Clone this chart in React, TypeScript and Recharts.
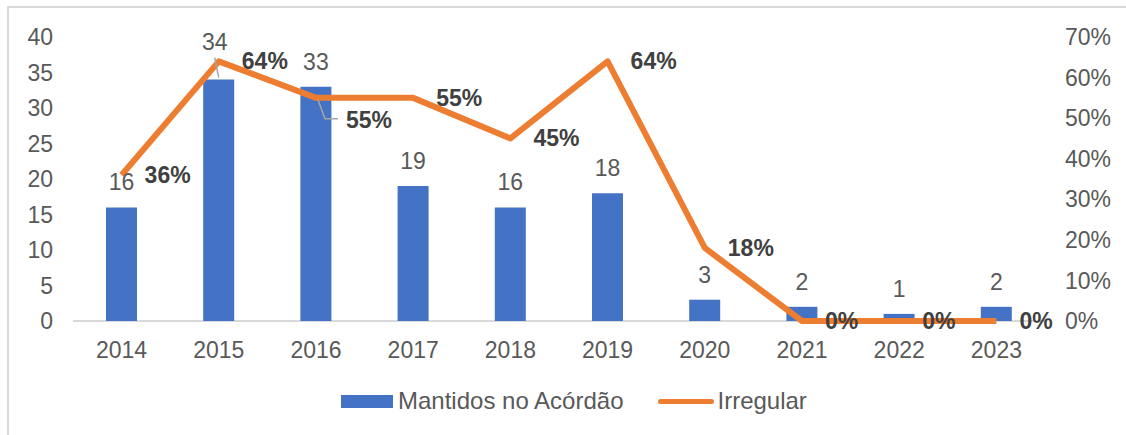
import React from 'react';
import { ComposedChart, Bar, Line, XAxis, YAxis, LabelList, Legend, CartesianGrid } from 'recharts';

const years = ['2014', '2015', '2016', '2017', '2018', '2019', '2020', '2021', '2022', '2023'];
const mantidos = [16, 34, 33, 19, 16, 18, 3, 2, 1, 2];
const irregular = [0.36, 0.64, 0.55, 0.55, 0.45, 0.64, 0.18, 0, 0, 0];
const leftTicks = [0, 5, 10, 15, 20, 25, 30, 35, 40];
const rightTicks = [0, 0.1, 0.2, 0.3, 0.4, 0.5, 0.6, 0.7];

const seriesNames = { bar: 'Mantidos no Acórdão', line: 'Irregular' };

const data = years.map((y, i) => ({ year: y, mantidos: mantidos[i], irregular: irregular[i] }));

const FONT = '"Liberation Sans", Arial, sans-serif';
const BLUE = '#4472C4';
const ORANGE = '#ED7D31';
const GRAY_TEXT = '#595959';
const DARK_TEXT = '#404040';
const FS = 23;

const pct = (v: number) => `${Math.round(v * 100)}%`;

const BarValueLabel = (props: any) => {
  const { x, y, width, value, index } = props;
  const cx = Number(x) + Number(width) / 2;
  const top = Number(y);
  if (years[index] === '2015') {
    return (
      <g>
        <line x1={cx - 4} y1={top - 22} x2={cx} y2={top - 2} stroke="#A6A6A6" strokeWidth={1.5} />
        <text x={cx - 4} y={top - 38} dy="0.35em" textAnchor="middle" fontSize={FS} fontFamily={FONT} fill={GRAY_TEXT}>
          {value}
        </text>
      </g>
    );
  }
  return (
    <text x={cx} y={top - 25} dy="0.35em" textAnchor="middle" fontSize={FS} fontFamily={FONT} fill={GRAY_TEXT}>
      {value}
    </text>
  );
};

const LineValueLabel = (props: any) => {
  const { x, y, value, index } = props;
  const px = Number(x);
  const py = Number(y);
  if (years[index] === '2016') {
    return (
      <g>
        <polyline
          points={`${px + 2},${py + 2} ${px + 9},${py + 21} ${px + 22},${py + 21}`}
          fill="none"
          stroke="#A6A6A6"
          strokeWidth={1.5}
        />
        <text x={px + 30} y={py + 22} dy="0.35em" fontSize={FS} fontWeight="bold" fontFamily={FONT} fill={DARK_TEXT}>
          {pct(value)}
        </text>
      </g>
    );
  }
  return (
    <text x={px + 23} y={py} dy="0.35em" fontSize={FS} fontWeight="bold" fontFamily={FONT} fill={DARK_TEXT}>
      {pct(value)}
    </text>
  );
};

const LegendContent = () => (
  <div
    style={{
      display: 'flex',
      alignItems: 'center',
      paddingLeft: 341,
      fontFamily: FONT,
      fontSize: 24,
      color: GRAY_TEXT,
      lineHeight: '26px',
      whiteSpace: 'nowrap',
    }}
  >
    <span style={{ display: 'inline-block', width: 52, height: 13, background: BLUE }} />
    <span style={{ marginLeft: 5 }}>{seriesNames.bar}</span>
    <span
      style={{
        display: 'inline-block',
        width: 56,
        height: 5,
        borderRadius: 3,
        background: ORANGE,
        marginLeft: 35,
      }}
    />
    <span style={{ marginLeft: 3 }}>{seriesNames.line}</span>
  </div>
);

export default function App() {
  return (
    <div style={{ position: 'absolute', left: 0, top: 0, width: 1126, height: 435, background: '#fff' }}>
      <div
        style={{
          position: 'absolute',
          left: 7,
          top: 6,
          right: 0,
          bottom: 0,
          borderLeft: '2px solid #D9D9D9',
          borderTop: '2px solid #D9D9D9',
        }}
      />
      <ComposedChart
        width={1126}
        height={435}
        data={data}
        margin={{ top: 37, right: 0, bottom: 0, left: 0 }}
        barCategoryGap="0%"
      >
        <CartesianGrid
          vertical={false}
          stroke="#D9D9D9"
          strokeWidth={2}
          horizontalCoordinatesGenerator={({ offset }: any) => [offset.top + offset.height]}
        />
        <XAxis
          dataKey="year"
          height={114}
          tickLine={false}
          tickSize={0}
          tickMargin={21}
          axisLine={false}
          tick={{ fontSize: FS, fontFamily: FONT, fill: GRAY_TEXT }}
          interval={0}
        />
        <YAxis
          yAxisId="left"
          width={73}
          domain={[0, 40]}
          ticks={leftTicks}
          axisLine={false}
          tickLine={false}
          tickSize={0}
          tickMargin={20}
          tick={{ fontSize: FS, fontFamily: FONT, fill: GRAY_TEXT }}
        />
        <YAxis
          yAxisId="right"
          orientation="right"
          width={81}
          domain={[0, 0.7]}
          ticks={rightTicks}
          tickFormatter={pct}
          axisLine={false}
          tickLine={false}
          tickSize={0}
          tickMargin={20}
          tick={{ fontSize: FS, fontFamily: FONT, fill: GRAY_TEXT, textAnchor: 'start' }}
        />
        <Legend
          layout="horizontal"
          verticalAlign="middle"
          align="center"
          content={LegendContent}
          wrapperStyle={{ position: 'absolute', left: 0, top: 388, width: 1126 }}
        />
        <Bar
          yAxisId="left"
          dataKey="mantidos"
          name={seriesNames.bar}
          fill={BLUE}
          barSize={31}
          isAnimationActive={false}
        >
          <LabelList dataKey="mantidos" content={BarValueLabel} />
        </Bar>
        <Line
          yAxisId="right"
          dataKey="irregular"
          name={seriesNames.line}
          stroke={ORANGE}
          strokeWidth={6}
          strokeLinejoin="round"
          dot={false}
          activeDot={false}
          isAnimationActive={false}
        >
          <LabelList dataKey="irregular" content={LineValueLabel} />
        </Line>
      </ComposedChart>
    </div>
  );
}
